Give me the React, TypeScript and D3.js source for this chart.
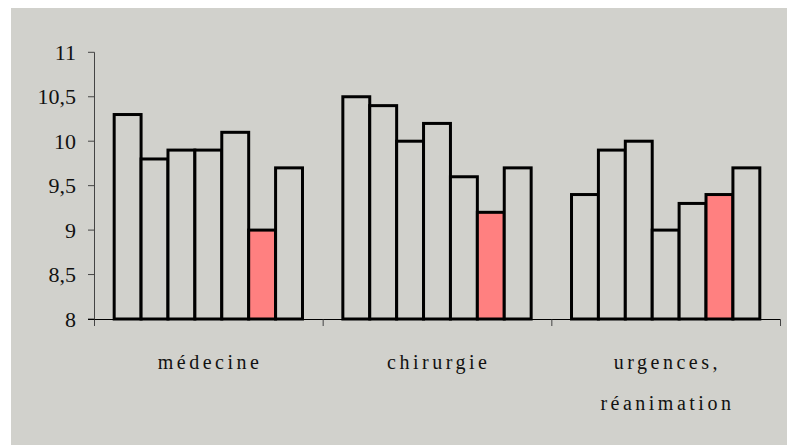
import React from "react";
import * as d3 from "d3";

const categories = ["médecine", "chirurgie", "urgences, réanimation"];
const categoryLines = [["médecine"], ["chirurgie"], ["urgences,", "réanimation"]];
const series = ["s1", "s2", "s3", "s4", "s5", "s6", "s7"];
const valuesMedecine = [10.3, 9.8, 9.9, 9.9, 10.1, 9.0, 9.7];
const valuesChirurgie = [10.5, 10.4, 10.0, 10.2, 9.6, 9.2, 9.7];
const valuesUrgences = [9.4, 9.9, 10.0, 9.0, 9.3, 9.4, 9.7];
const yTicks = [8, 8.5, 9, 9.5, 10, 10.5, 11];
const highlightIndex = 5;

const W = 787;
const H = 445;
const BG = "#d1d1cc";
const RED = "#ff8080";
const FONT = "Liberation Serif, DejaVu Serif, Times New Roman, serif";

export default function App() {
  const data = [valuesMedecine, valuesChirurgie, valuesUrgences];
  const x0 = d3.scaleBand<string>().domain(categories).range([94, 780]).padding(0);
  const x1 = d3
    .scaleBand<string>()
    .domain(series)
    .range([0, x0.bandwidth()])
    .paddingInner(0)
    .paddingOuter(0.75);
  const y = d3.scaleLinear().domain([8, 11]).range([319, 52.3]);
  const fmt = (v: number) => String(v).replace(".", ",");

  return (
    <svg
      width={W}
      height={H}
      style={{ position: "absolute", left: 0, top: 0, display: "block", fontFamily: FONT }}
    >
      <rect x={0} y={0} width={W} height={H} fill="#ffffff" />
      <rect x={11} y={8} width={W - 11} height={H - 8} fill={BG} />
      {categories.map((c, ci) => (
        <g key={c} transform={`translate(${x0(c)},0)`}>
          {series.map((s, si) => {
            const v = data[ci][si];
            return (
              <rect
                key={s}
                x={x1(s)!}
                y={y(v)}
                width={x1.bandwidth()}
                height={y(8) - y(v)}
                fill={si === highlightIndex ? RED : BG}
                stroke="#000"
                strokeWidth={3}
              />
            );
          })}
        </g>
      ))}
      <line x1={94.5} x2={94.5} y1={y(11)} y2={y(8) + 7} stroke="#444" strokeWidth={1} />
      {yTicks.map((t) => (
        <g key={t}>
          <line x1={88} x2={94.5} y1={y(t)} y2={y(t)} stroke="#444" strokeWidth={1} />
          <text
            x={76}
            y={y(t)}
            dy="0.35em"
            textAnchor="end"
            style={{ fontFamily: FONT }}
            fontSize={22}
            fill="#111"
          >
            {fmt(t)}
          </text>
        </g>
      ))}
      <line x1={88} x2={780.5} y1={319.5} y2={319.5} stroke="#000" strokeWidth={1} />
      {[...categories.map((c) => x0(c)!), 780].map((xv, i) => (
        <line key={i} x1={xv + 0.5} x2={xv + 0.5} y1={319.5} y2={326} stroke="#444" strokeWidth={1} />
      ))}
      {categories.map((c, ci) => (
        <text
          key={c}
          textAnchor="middle"
          style={{ fontFamily: FONT }}
          fontSize={20}
          letterSpacing={3.5}
          fill="#111"
        >
          {categoryLines[ci].map((line, li) => (
            <tspan key={li} x={x0(c)! + x0.bandwidth() / 2 + 1.75} y={369 + li * 41}>
              {line}
            </tspan>
          ))}
        </text>
      ))}
    </svg>
  );
}
